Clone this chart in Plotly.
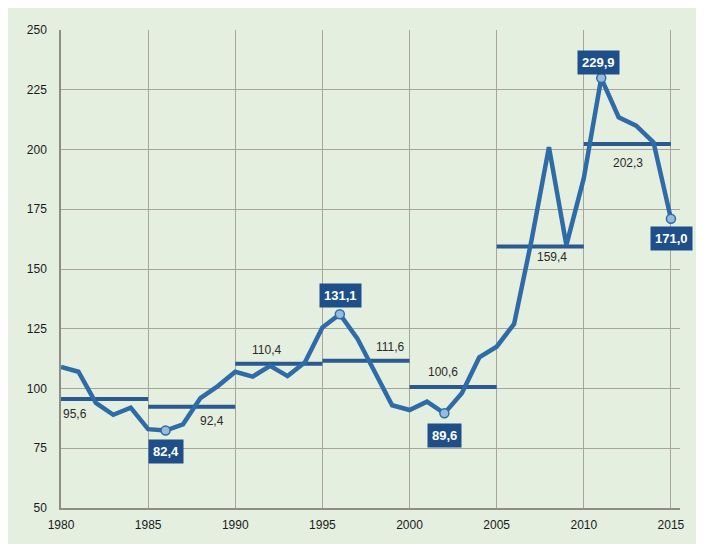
import plotly.graph_objects as go

years = list(range(1980, 2016))
values = [109.0, 107.0, 94.0, 89.0, 92.0, 83.0,
          82.4, 85.0, 96.0, 101.0, 107.0, 105.0,
          109.5, 105.2, 111.0, 125.5, 131.1, 121.0,
          107.0, 93.0, 91.0, 94.5, 89.6, 98.0,
          113.0, 117.5, 127.0, 162.0, 201.0, 160.0,
          188.0, 229.9, 213.5, 210.0, 203.0, 171.0]

period_start = [1980, 1985, 1990, 1995, 2000, 2005, 2010]
period_end = [1985, 1990, 1995, 2000, 2005, 2010, 2015]
period_avg = [95.6, 92.4, 110.4, 111.6, 100.6, 159.4, 202.3]

highlight_years = [1986, 1996, 2002, 2011, 2015]

# label placement (x position in years, vertical shift in px)
avg_label_x = [1980.8, 1988.65, 1991.8, 1998.93, 2001.93, 2008.2, 2012.53]
avg_label_dy = [-15, -14.5, 14, 13.6, 15, -10, -19]
hl_dx = [0, 1, 0, -3, 1]
hl_dy = [-21, 18.5, -22, 15.5, -19.5]

LINE = "#2f6ba6"
AVG = "#2a5a8e"
BOX = "#1f4f88"
BG = "#e4efe0"
GRID = "#a8a69c"


def fmt(v):
    return f"{v:.1f}".replace(".", ",")


fig = go.Figure()

# period averages
for s, e, a in zip(period_start, period_end, period_avg):
    fig.add_trace(go.Scatter(x=[s, e], y=[a, a], mode="lines",
                             line=dict(color=AVG, width=4),
                             hoverinfo="skip", showlegend=False))

fig.add_trace(go.Scatter(x=years, y=values, mode="lines",
                         line=dict(color=LINE, width=4.5),
                         showlegend=False))

hl_vals = [values[years.index(y)] for y in highlight_years]
fig.add_trace(go.Scatter(x=highlight_years, y=hl_vals, mode="markers",
                         marker=dict(size=9, color="#98bbdc",
                                     line=dict(color=LINE, width=1.5)),
                         showlegend=False))

annotations = []
for x, a, dy in zip(avg_label_x, period_avg, avg_label_dy):
    annotations.append(dict(x=x, y=a, yshift=dy, text=fmt(a), showarrow=False,
                            font=dict(family="Liberation Sans, Arial", size=12,
                                      color="#2a2a2a")))
for x, v, dx, dy in zip(highlight_years, hl_vals, hl_dx, hl_dy):
    annotations.append(dict(x=x, y=v, xshift=dx, yshift=dy,
                            text="<b>" + fmt(v) + "</b>", showarrow=False,
                            bgcolor=BOX, borderpad=4,
                            font=dict(family="Liberation Sans, Arial", size=13,
                                      color="white")))

fig.update_layout(
    width=720, height=544,
    margin=dict(l=53, r=48, t=22, b=44),
    paper_bgcolor=BG,
    plot_bgcolor=BG,
    annotations=annotations,
    font=dict(family="Liberation Sans, Arial", size=12, color="#222222"),
)

fig.update_xaxes(range=[1980, 2015.52], tickmode="linear", tick0=1980, dtick=5,
                 showgrid=True, gridcolor=GRID, gridwidth=1,
                 showline=True, linecolor="#8f8d85", linewidth=1.5,
                 zeroline=False, ticks="", ticklabelstandoff=5,
                 tickfont=dict(size=12, color="#1a1a1a"))
fig.update_yaxes(range=[50, 250], tickmode="linear", tick0=50, dtick=25,
                 showgrid=True, gridcolor=GRID, gridwidth=1,
                 showline=True, linecolor="#8f8d85", linewidth=1.5,
                 zeroline=False, ticks="", ticklabelstandoff=10,
                 tickfont=dict(size=12, color="#1a1a1a"))

fig.write_html("out.html")
